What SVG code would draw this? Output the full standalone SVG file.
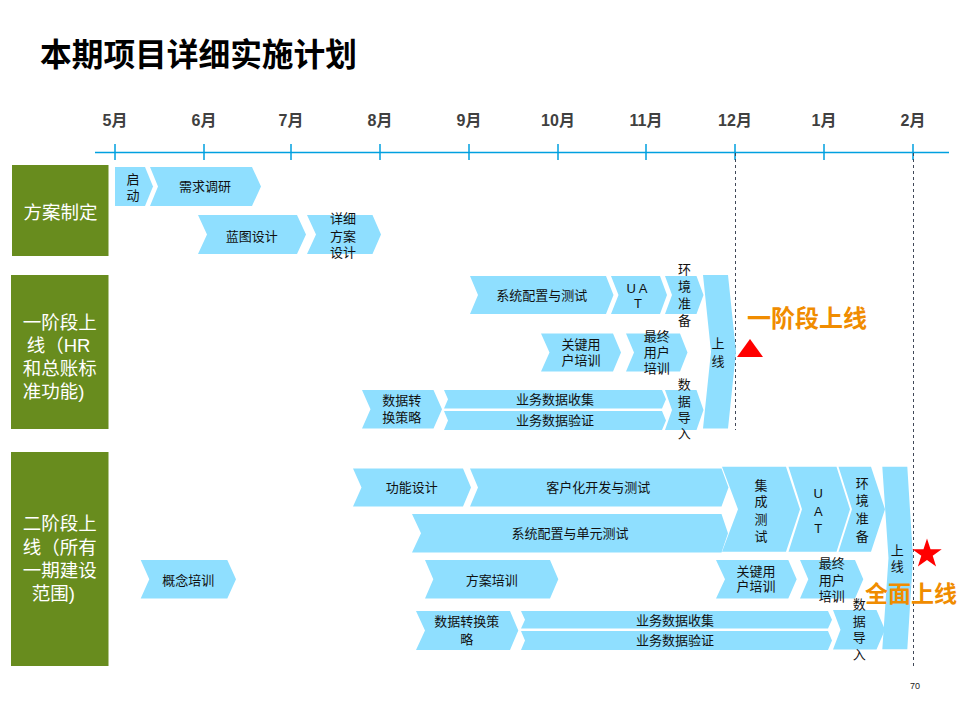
<svg xmlns="http://www.w3.org/2000/svg" width="960" height="720" viewBox="0 0 960 720">
<style>
.bg{fill:#ffffff}
.title{font-family:"Liberation Sans","Noto Sans CJK SC",sans-serif;font-size:31.7px;font-weight:bold;fill:#000}
.m{font-family:"Liberation Sans","Noto Sans CJK SC",sans-serif;font-size:16px;font-weight:bold;fill:#404040;text-anchor:middle}
.axis{stroke:#00A0E0;stroke-width:1.5;fill:none}
.dash{stroke:#404858;stroke-width:1;stroke-dasharray:3 3;fill:none}
.gb{fill:#688C1E}
.gt{font-family:"Liberation Sans","Noto Sans CJK SC",sans-serif;font-size:18.5px;fill:#fff}
.c{fill:#8FDFFF}
.t{font-family:"Liberation Sans","Noto Sans CJK SC",sans-serif;font-size:13px;fill:#111;text-anchor:middle}
.big{font-family:"Liberation Sans","Noto Sans CJK SC",sans-serif;font-size:24px;font-weight:bold;fill:#F08C00}
.red{fill:#FF0000}
.pg{font-family:"Liberation Sans","Noto Sans CJK SC",sans-serif;font-size:9px;fill:#222;text-anchor:middle}
</style>
<rect class="bg" x="0" y="0" width="960" height="720"/>
<text class="title" x="40" y="66">本期项目详细实施计划</text>

<g id="timeline">
<line class="axis" x1="95" y1="152.5" x2="949" y2="152.5"/>
<path class="axis" d="M115,144V160M204,144V160M291,144V160M380,144V160M469,144V160M558,144V160M646,144V160M735,144V160M824,144V160M913,144V160"/>
<text class="m" x="115" y="126">5月</text>
<text class="m" x="204" y="126">6月</text>
<text class="m" x="291" y="126">7月</text>
<text class="m" x="380" y="126">8月</text>
<text class="m" x="469" y="126">9月</text>
<text class="m" x="558" y="126">10月</text>
<text class="m" x="646" y="126">11月</text>
<text class="m" x="735" y="126">12月</text>
<text class="m" x="824" y="126">1月</text>
<text class="m" x="913" y="126">2月</text>
</g>

<g id="connectors">
<line class="dash" x1="735.5" y1="153" x2="735.5" y2="430"/>
<line class="dash" x1="913.5" y1="153" x2="913.5" y2="666"/>
</g>

<g id="phase-label-1"><rect class="gb" x="12" y="165" width="96.5" height="91"/><text class="gt" x="60.5" y="219" text-anchor="middle">方案制定</text></g>
<g id="phase-label-2"><rect class="gb" x="11" y="275" width="97.5" height="154"/>
<text class="gt" x="22.7" y="329">一阶段上</text>
<text class="gt" x="26.7" y="352">线（HR</text>
<text class="gt" x="22.7" y="375">和总账标</text>
<text class="gt" x="22.7" y="398">准功能)</text></g>
<g id="phase-label-3"><rect class="gb" x="11" y="452" width="97.5" height="214"/>
<text class="gt" x="22.7" y="530">二阶段上</text>
<text class="gt" x="22.7" y="553.5">线（所有</text>
<text class="gt" x="22.7" y="577">一期建设</text>
<text class="gt" x="31.7" y="599.5">范围)</text></g>

<!-- Phase 1 -->
<g id="n-qidong"><polygon class="c" points="115,167 145,167 153,186.5 145,206 115,206"/><text class="t" x="133" y="183.5">启</text><text class="t" x="133" y="199.5">动</text></g>
<g id="n-xuqiu"><polygon class="c" points="150,167 252,167 261,186.5 252,206 150,206 158,186.5"/><text class="t" x="205" y="190.5">需求调研</text></g>
<g id="n-lantu"><polygon class="c" points="198,215 297,215 306,234.5 297,254 198,254 207,234.5"/><text class="t" x="251.7" y="240.5">蓝图设计</text></g>
<g id="n-xiangxi"><polygon class="c" points="307,215 372.5,215 381,234.5 372.5,254 307,254 316,234.5"/><text class="t" x="343" y="223">详细</text><text class="t" x="343" y="240.5">方案</text><text class="t" x="343" y="257">设计</text></g>

<!-- Phase 2 -->
<g id="n-p2-xitong"><polygon class="c" points="470,276 606,276 613.5,295 606,314 470,314 478,295"/><text class="t" x="541.7" y="299.5">系统配置与测试</text></g>
<g id="n-p2-uat"><polygon class="c" points="611,276 660,276 667,295 660,314 611,314 618.5,295"/><text class="t" x="638.5" y="293" letter-spacing="3">UA</text><text class="t" x="638" y="308">T</text></g>
<g id="n-p2-huanjing"><polygon class="c" points="665,276 696.5,276 703.5,295 696.5,314 665,314 672,295"/><text class="t" x="684.5" y="274">环</text><text class="t" x="684.5" y="291">境</text><text class="t" x="684.5" y="308">准</text><text class="t" x="684.5" y="324.5">备</text></g>
<g id="n-p2-shangxian"><polygon class="c" points="703,275 728,275 736,351.7 728,428.5 703,428.5 711,351.7"/><text class="t" x="718" y="348">上</text><text class="t" x="718" y="366">线</text></g>
<g id="n-p2-guanjian"><polygon class="c" points="541,333.5 613,333.5 621,352.5 613,371.5 541,371.5 549.5,352.5"/><text class="t" x="581" y="349">关键用</text><text class="t" x="581" y="364.5">户培训</text></g>
<g id="n-p2-zuizhong"><polygon class="c" points="626,333.5 680,333.5 687.5,352.5 680,371.5 626,371.5 634,352.5"/><text class="t" x="656.7" y="341">最终</text><text class="t" x="656.7" y="357">用户</text><text class="t" x="656.7" y="373">培训</text></g>
<g id="n-p2-shujuzh"><polygon class="c" points="362,390 433.5,390 442,409.2 433.5,428.5 362,428.5 370.5,409.2"/><text class="t" x="401.7" y="405">数据转</text><text class="t" x="401.7" y="422">换策略</text></g>
<g id="n-p2-shouji"><polygon class="c" points="444,390 662,390 666,399.2 662,408.5 444,408.5 448,399.2"/><text class="t" x="555" y="404">业务数据收集</text></g>
<g id="n-p2-yanzheng"><polygon class="c" points="444,411 662,411 666,420.5 662,430 444,430 448,420.5"/><text class="t" x="555" y="425">业务数据验证</text></g>
<g id="n-p2-daoru"><polygon class="c" points="665,390 696.5,390 703.5,410 696.5,430 665,430 672,410"/><text class="t" x="684.3" y="389">数</text><text class="t" x="684.3" y="406">据</text><text class="t" x="684.3" y="422">导</text><text class="t" x="684.3" y="438">入</text></g>
<g id="m-p2"><polygon class="red" points="750,339 763,357 737,357"/><text class="big" x="747" y="327">一阶段上线</text></g>

<!-- Phase 3 -->
<g id="n-p3-gongneng"><polygon class="c" points="353,468.5 463,468.5 471,487.5 463,506.5 353,506.5 361.5,487.5"/><text class="t" x="411.7" y="491.5">功能设计</text></g>
<g id="n-p3-kehuhua"><polygon class="c" points="470,468.5 721.5,468.5 728.5,487.5 721.5,506.5 470,506.5 478,487.5"/><text class="t" x="598.3" y="491.5">客户化开发与测试</text></g>
<g id="n-p3-xitong"><polygon class="c" points="412,514 721.5,514 728,533.2 721.5,552.5 412,552.5 421,533.2"/><text class="t" x="570" y="538">系统配置与单元测试</text></g>
<g id="n-p3-jicheng"><polygon class="c" points="722,466.7 786,466.7 800,509.2 786,551.7 722,551.7 738,509.2"/><text class="t" x="761" y="489.5">集</text><text class="t" x="761" y="506">成</text><text class="t" x="761" y="523.5">测</text><text class="t" x="761" y="540.5">试</text></g>
<g id="n-p3-uat"><polygon class="c" points="788.5,466.7 836.5,466.7 850,509.2 836.5,551.7 788.5,551.7 802,509.2"/><text class="t" x="818.3" y="498">U</text><text class="t" x="818.3" y="516">A</text><text class="t" x="818.3" y="533">T</text></g>
<g id="n-p3-huanjing"><polygon class="c" points="838.5,466.7 871,466.7 885,509.2 871,551.7 838.5,551.7 852,509.2"/><text class="t" x="862.3" y="488">环</text><text class="t" x="862.3" y="504.5">境</text><text class="t" x="862.3" y="523">准</text><text class="t" x="862.3" y="540.5">备</text></g>
<g id="n-p3-shangxian"><polygon class="c" points="882.3,466.7 907.3,466.7 913,558 907.3,649.3 882.3,649.3 888.5,558"/><text class="t" x="897.3" y="554.5">上</text><text class="t" x="897.3" y="571">线</text></g>
<g id="n-p3-gainian"><polygon class="c" points="140.7,560 227.3,560 236,579.2 227.3,598.5 140.7,598.5 149.3,579.2"/><text class="t" x="188.3" y="585">概念培训</text></g>
<g id="n-p3-fangan"><polygon class="c" points="425,560 550,560 558.3,579.2 550,598.5 425,598.5 433.3,579.2"/><text class="t" x="491.7" y="584.5">方案培训</text></g>
<g id="n-p3-guanjian"><polygon class="c" points="716,560 788.3,560 796.7,579.2 788.3,598.5 716,598.5 725,579.2"/><text class="t" x="756" y="576">关键用</text><text class="t" x="756" y="591">户培训</text></g>
<g id="n-p3-zuizhong"><polygon class="c" points="800,560 855,560 863.3,579.2 855,598.5 800,598.5 808.3,579.2"/><text class="t" x="831.7" y="568">最终</text><text class="t" x="831.7" y="584.5">用户</text><text class="t" x="831.7" y="600.5">培训</text></g>
<g id="n-p3-shujuzh"><polygon class="c" points="416,611 510,611 518.3,630.5 510,650 416,650 425,630.5"/><text class="t" x="466.7" y="626">数据转换策</text><text class="t" x="466.7" y="644">略</text></g>
<g id="n-p3-shouji"><polygon class="c" points="521,611 828,611 832,619.7 828,628.5 521,628.5 525,619.7"/><text class="t" x="675" y="624.5">业务数据收集</text></g>
<g id="n-p3-yanzheng"><polygon class="c" points="521,631 828,631 832,640.5 828,650 521,650 525,640.5"/><text class="t" x="675" y="645">业务数据验证</text></g>
<g id="n-p3-daoru"><polygon class="c" points="833,610 876.5,610 885,629.7 876.5,649.5 833,649.5 840.5,629.7"/><text class="t" x="859.3" y="608.5">数</text><text class="t" x="859.3" y="626">据</text><text class="t" x="859.3" y="642">导</text><text class="t" x="859.3" y="658.5">入</text></g>
<g id="m-p3"><polygon class="red" points="927,538.5 930.53,549.15 941.74,549.21 932.71,555.85 936.11,566.54 927,560 917.89,566.54 921.29,555.85 912.26,549.21 923.47,549.15"/><text class="big" x="865" y="602" style="font-size:23px">全面上线</text></g>

<text class="pg" x="915" y="689">70</text>
</svg>
